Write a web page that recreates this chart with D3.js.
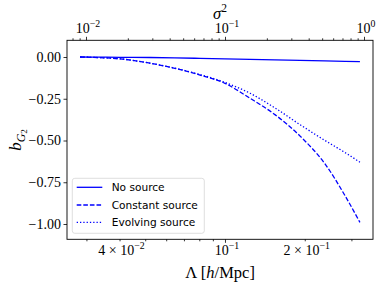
<!DOCTYPE html>
<html><head><meta charset="utf-8">
<script src="https://cdn.jsdelivr.net/npm/d3@7"></script>
<style>body{margin:0;background:#fff}svg{display:block}</style>
</head><body>
<svg id="c" width="380" height="286"></svg>
<script>
// ---- data ----
const lambda = [0.0284, 0.0338, 0.0402, 0.0521, 0.0647, 0.0805, 0.1, 0.1243, 0.1544, 0.1919, 0.2385, 0.2837, 0.323];
const noSource = [0, -0.001, -0.002, -0.003, -0.005, -0.008, -0.011, -0.014, -0.017, -0.02, -0.023, -0.026, -0.028];
const constantSource = [0, -0.004, -0.011, -0.037, -0.068, -0.108, -0.158, -0.247, -0.345, -0.473, -0.64, -0.83, -0.99];
const evolvingSource = [0, -0.004, -0.011, -0.037, -0.067, -0.105, -0.152, -0.217, -0.305, -0.405, -0.50, -0.572, -0.63];
const seriesNames = ["No source", "Constant source", "Evolving source"];
const yTickValues = [0, -0.25, -0.5, -0.75, -1.0];
const yTickLabels = ["0.00", "−0.25", "−0.50", "−0.75", "−1.00"];
const bottomLabelValues = [0.04, 0.1, 0.2];
const bottomLabelMant = ["4 × 10", "10", "2 × 10"];
const bottomLabelExp = ["−2", "−1", "−1"];
const bottomMinor = [0.03, 0.04, 0.05, 0.06, 0.07, 0.08, 0.09, 0.2, 0.3];
const bottomMajor = [0.1];
const topLabelValues = [0.01, 0.1, 1];
const topLabelMant = ["10", "10", "10"];
const topLabelExp = ["−2", "−1", "0"];
const topMinor = [0.008, 0.009, 0.02, 0.03, 0.04, 0.05, 0.06, 0.07, 0.08, 0.09, 0.2, 0.3, 0.4, 0.5, 0.6, 0.7, 0.8, 0.9];

// ---- layout ----
const L = 67, R = 373, T = 40.3, B = 239.3;
const svg = d3.select("#c");
const serif = "'Liberation Serif', 'DejaVu Serif', serif";
const sans = "'DejaVu Sans', sans-serif";
const blue = "#0000ff";

const x = d3.scaleLog().domain([0.02534, 0.3619]).range([L, R]);
const xTop = d3.scaleLog().domain([0.0073, 1.1607]).range([L, R]);
const y = d3.scaleLinear().domain([-1.0916, 0.1]).range([B, T]);

// axes (ticks only)
function tickAxis(axis, tr) {
  const g = svg.append("g").attr("transform", tr).call(axis);
  g.select(".domain").remove();
  g.selectAll("line").attr("stroke", "#000").attr("stroke-width", 0.8);
  return g;
}
tickAxis(d3.axisBottom(x).tickValues(bottomMajor).tickSize(3.5).tickFormat(""), `translate(0,${B})`);
tickAxis(d3.axisBottom(x).tickValues(bottomMinor).tickSize(2).tickFormat(""), `translate(0,${B})`);
tickAxis(d3.axisTop(xTop).tickValues(topLabelValues).tickSize(3.5).tickFormat(""), `translate(0,${T})`);
tickAxis(d3.axisTop(xTop).tickValues(topMinor).tickSize(2).tickFormat(""), `translate(0,${T})`);
tickAxis(d3.axisLeft(y).tickValues(yTickValues).tickSize(3.5).tickFormat(""), `translate(${L},0)`);

// tick labels
function powLabel(px, py, mant, exp, fs) {
  const t = svg.append("text").attr("x", px).attr("y", py).attr("text-anchor", "middle")
    .attr("font-family", serif).attr("font-size", fs).attr("fill", "#000");
  t.append("tspan").text(mant);
  t.append("tspan").attr("dy", -fs * 0.42).attr("font-size", fs * 0.7).text(exp);
}
bottomLabelValues.forEach((v, i) => powLabel(x(v) + 2, 255, bottomLabelMant[i], bottomLabelExp[i], 14));
topLabelValues.forEach((v, i) => powLabel(xTop(v) + 2, 32.7, topLabelMant[i], topLabelExp[i], 14));

svg.append("g").selectAll("text").data(yTickValues).join("text")
  .attr("x", L - 6).attr("y", d => y(d)).attr("dy", "0.34em").attr("text-anchor", "end")
  .attr("font-family", serif).attr("font-size", 14).attr("fill", "#000")
  .text((d, i) => yTickLabels[i]);

// lines
const line = d3.line().x(d => x(d[0])).y(d => y(d[1])).curve(d3.curveMonotoneX);
const series = [noSource, constantSource, evolvingSource];
const dashes = [null, "4.6,2", "1.3,2"];
series.forEach((s, i) => {
  svg.append("path").datum(lambda.map((l, j) => [l, s[j]]))
    .attr("d", line).attr("fill", "none").attr("stroke", blue).attr("stroke-width", 1.3)
    .attr("stroke-dasharray", dashes[i]);
});

// frame
svg.append("rect").attr("x", L).attr("y", T).attr("width", R - L).attr("height", B - T)
  .attr("fill", "none").attr("stroke", "#000").attr("stroke-width", 0.9);

// legend
const lg = svg.append("g");
lg.append("rect").attr("x", 72.3).attr("y", 178.3).attr("width", 132).attr("height", 55).attr("rx", 2.5)
  .attr("fill", "#fff").attr("fill-opacity", 0.8).attr("stroke", "#d5d5d5").attr("stroke-width", 0.8);
const rowY = [187.3, 205, 222.3];
seriesNames.forEach((n, i) => {
  lg.append("line").attr("x1", 76.7).attr("x2", 102.3).attr("y1", rowY[i]).attr("y2", rowY[i])
    .attr("stroke", blue).attr("stroke-width", 1.3).attr("stroke-dasharray", dashes[i]);
  lg.append("text").attr("x", 111.7).attr("y", rowY[i]).attr("dy", "0.36em")
    .attr("font-family", sans).attr("font-size", 10.6).attr("fill", "#000").text(n);
});

// axis titles
const xl = svg.append("text").attr("x", 220).attr("y", 278).attr("text-anchor", "middle")
  .attr("font-family", serif).attr("font-size", 16.5).attr("fill", "#000");
xl.append("tspan").text("Λ [");
xl.append("tspan").attr("font-style", "italic").text("h");
xl.append("tspan").text("/Mpc]");

const tl = svg.append("text").attr("x", 220).attr("y", 18.5).attr("text-anchor", "middle")
  .attr("font-family", serif).attr("font-size", 16.5).attr("fill", "#000");
tl.append("tspan").attr("font-style", "italic").text("σ");
tl.append("tspan").attr("dy", -7).attr("font-size", 11.5).text("2");

const yl = svg.append("text").attr("transform", "translate(21,140) rotate(-90)").attr("text-anchor", "middle")
  .attr("font-family", serif).attr("font-size", 17).attr("fill", "#000");
yl.append("tspan").attr("font-style", "italic").text("b");
yl.append("tspan").attr("dy", 3.5).attr("font-size", 12).attr("font-style", "italic").text("G");
yl.append("tspan").attr("dy", 2).attr("font-size", 9).text("2");
</script>
</body></html>
